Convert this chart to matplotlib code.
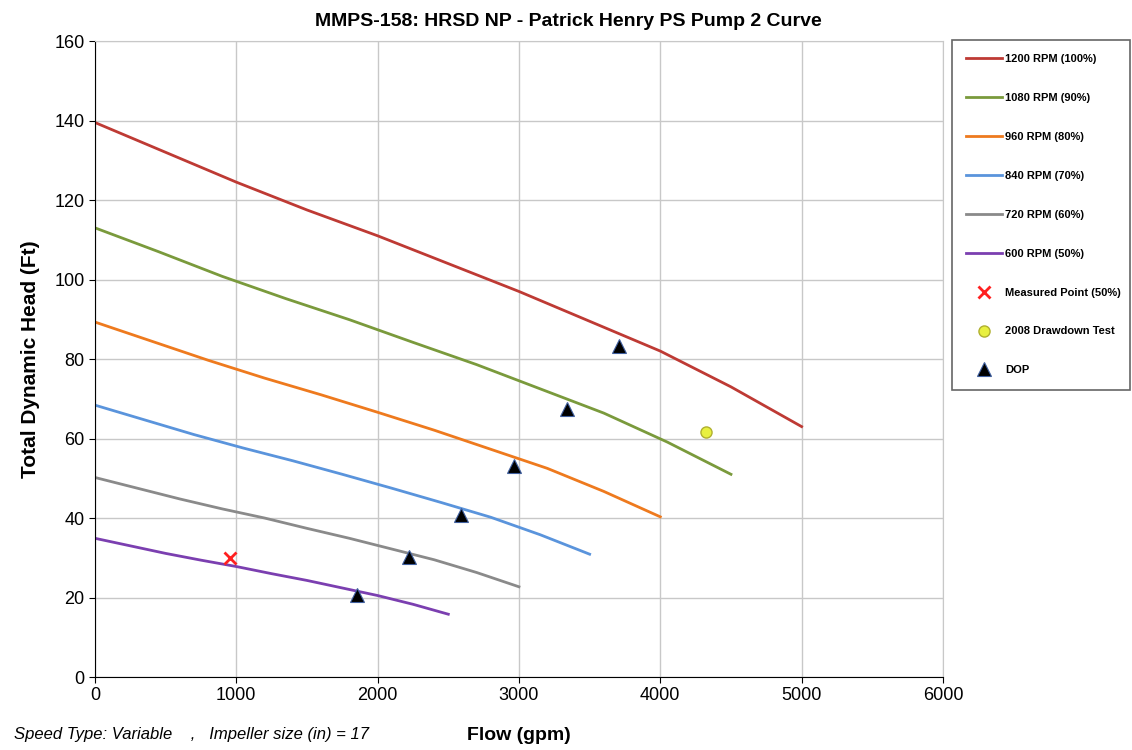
import numpy as np
import matplotlib.pyplot as plt

plt.rcParams['font.family'] = ['Liberation Sans', 'DejaVu Sans']

# pump curves (flow gpm, head ft)
flow_100 = [0, 500, 1000, 1500, 2000, 2500, 3000, 3500, 4000, 4500, 5000]
head_100 = [139.5, 132, 124.5, 117.5, 111, 104, 97, 89.5, 82, 73, 63]
flow_90 = [0, 450, 900, 1350, 1800, 2250, 2700, 3150, 3600, 4050, 4500]
head_90 = [113, 107, 100.8, 95.2, 89.9, 84.2, 78.6, 72.5, 66.4, 59.1, 51]
flow_80 = [0, 400, 800, 1200, 1600, 2000, 2400, 2800, 3200, 3600, 4000]
head_80 = [89.3, 84.5, 79.7, 75.2, 71.0, 66.6, 62.1, 57.3, 52.5, 46.7, 40.3]
flow_70 = [0, 350, 700, 1050, 1400, 1750, 2100, 2450, 2800, 3150, 3500]
head_70 = [68.4, 64.7, 61.0, 57.6, 54.4, 51.0, 47.5, 43.9, 40.2, 35.8, 30.9]
flow_60 = [0, 300, 600, 900, 1200, 1500, 1800, 2100, 2400, 2700, 3000]
head_60 = [50.2, 47.5, 44.8, 42.3, 40.0, 37.4, 34.9, 32.2, 29.5, 26.3, 22.7]
flow_50 = [0, 250, 500, 750, 1000, 1250, 1500, 1750, 2000, 2250, 2500]
head_50 = [34.9, 33.0, 31.1, 29.4, 27.8, 26.0, 24.3, 22.4, 20.5, 18.3, 15.8]

measured_flow = [955]
measured_head = [30]
drawdown_flow = [4324]
drawdown_head = [61.6]
dop_flow = [1854, 2222, 2590, 2965, 3340, 3708]
dop_head = [20.6, 30.2, 40.8, 53.1, 67.4, 83.3]

fig = plt.figure(figsize=(11.32, 7.5), dpi=100)
ax = fig.add_axes([0.0839, 0.0973, 0.7491, 0.848])

ax.plot(flow_100, head_100, color='#be3a34', lw=2, label='1200 RPM (100%)')
ax.plot(flow_90, head_90, color='#7a9a3c', lw=2, label='1080 RPM (90%)')
ax.plot(flow_80, head_80, color='#ee7a1e', lw=2, label='960 RPM (80%)')
ax.plot(flow_70, head_70, color='#5a94dc', lw=2, label='840 RPM (70%)')
ax.plot(flow_60, head_60, color='#8a8a8a', lw=2, label='720 RPM (60%)')
ax.plot(flow_50, head_50, color='#7b3fb0', lw=2, label='600 RPM (50%)')
ax.plot(measured_flow, measured_head, 'x', color='#ff2020', ms=9, mew=2,
        label='Measured Point (50%)')
ax.plot(drawdown_flow, drawdown_head, 'o', color='#e8f040', mec='#b0b030', ms=8,
        label='2008 Drawdown Test')
ax.plot(dop_flow, dop_head, '^', color='black', mec='#4060a0', ms=10, mew=0.8,
        label='DOP')

ax.set_xlim(0, 6000)
ax.set_ylim(0, 160)
ax.set_xticks(range(0, 6001, 1000))
ax.set_yticks(range(0, 161, 20))
ax.grid(True, color='#c8c8c8', lw=1)
ax.set_axisbelow(True)
for s in ['top', 'right']:
    ax.spines[s].set_color('#c8c8c8')
for s in ['left', 'bottom']:
    ax.spines[s].set_color('black')
ax.tick_params(labelsize=13, direction='out', length=4)

ax.set_ylabel('Total Dynamic Head (Ft)', fontsize=15, fontweight='bold', labelpad=10)
fig.text(0.458, 0.013, 'Flow (gpm)', fontsize=14, fontweight='bold', ha='center')
fig.text(0.012, 0.015, 'Speed Type: Variable    ,   Impeller size (in) = 17',
         fontsize=12, style='italic')
fig.text(0.502, 0.966, 'MMPS-158: HRSD NP - Patrick Henry PS Pump 2 Curve',
         fontsize=14, fontweight='bold', ha='center')

handles, labels = ax.get_legend_handles_labels()
leg = fig.legend(handles, labels, loc='upper left',
                 bbox_to_anchor=(0.841, 0.479, 0.157, 0.468), mode='expand',
                 borderaxespad=0, labelspacing=2.6, handlelength=3.2, borderpad=1.3,
                 handletextpad=0.3, fancybox=False, edgecolor='#404040',
                 prop={'family': 'Liberation Sans', 'size': 8, 'weight': 'bold'})
leg.get_frame().set_linewidth(1.2)

plt.savefig('out.png', dpi=100)
